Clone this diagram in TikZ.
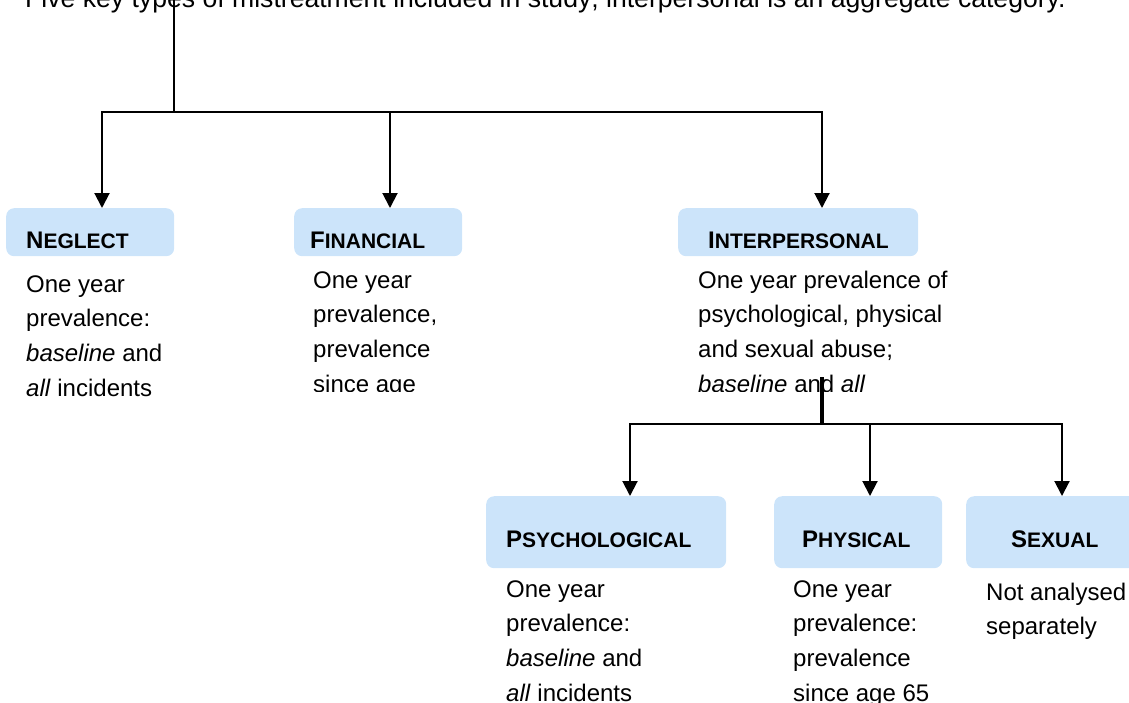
\documentclass[tikz,border=0pt]{standalone}
\usepackage{fontspec}
\setmainfont{Liberation Sans}
\usetikzlibrary{arrows.meta}
\definecolor{boxblue}{RGB}{204,228,250}
\newcommand{\capword}[2]{#1{\fontsize{21}{21}\selectfont #2}}
\begin{document}
\begin{tikzpicture}[x=1pt,y=1pt]
	\tikzset{catbox/.style = {fill=boxblue, rounded corners=8pt, anchor=north west, inner sep=0pt}}
	\tikzset{cathead/.style = {anchor=base west, inner sep=0pt, font=\fontsize{24}{24}\selectfont\bfseries}}
	% base of a note is the baseline of its last line
	\tikzset{catnote/.style = {anchor=base west, inner sep=0pt, align=left, font=\fontsize{24}{34.8}\selectfont}}
	\tikzset{link/.style = {line width=2pt}}
	\tikzset{arr/.style = {link, -{Triangle[length=15pt,width=15pt]}}}
	\clip (0,0) rectangle (1129,-702);
	\node[anchor=base west, inner sep=0pt, font=\fontsize{26.6}{26.6}\selectfont] (title) at (25,-7.5)
		{Five key types of mistreatment included in study; interpersonal is an aggregate category.};
	% top level
	\node[catbox, minimum width=168pt, minimum height=48pt] (neglect) at (6,-208) {};
	\node[catbox, minimum width=168pt, minimum height=48pt] (financial) at (294,-208) {};
	\node[catbox, minimum width=240pt, minimum height=48pt] (interpersonal) at (678,-208) {};
	\node[cathead] (neglecthead) at (26,-248) {\capword{N}{EGLECT}};
	\node[cathead] (financialhead) at (310,-248) {\capword{F}{INANCIAL}};
	\node[cathead] (interpersonalhead) at (708,-248) {\capword{I}{NTERPERSONAL}};
	\node[catnote] (neglectnote) at (26,-396.4) {One year\\prevalence:\\\emph{baseline} and\\\emph{all} incidents};
	\begin{scope}
		\clip (294,-260) rectangle (470,-391);
		\node[catnote] (financialnote) at (313,-392.4) {One year\\prevalence,\\prevalence\\since age};
	\end{scope}
	\begin{scope}
		\clip (678,-260) rectangle (960,-391);
		\node[catnote] (interpersonalnote) at (698,-392.4) {One year prevalence of\\psychological, physical\\and sexual abuse;\\\emph{baseline} and \emph{all}};
	\end{scope}
	% sub level
	\node[catbox, minimum width=240pt, minimum height=72pt] (psychological) at (486,-496) {};
	\node[catbox, minimum width=168pt, minimum height=72pt] (physical) at (774,-496) {};
	\node[catbox, minimum width=176pt, minimum height=72pt] (sexual) at (966,-496) {};
	\node[cathead] (psychologicalhead) at (506,-547) {\capword{P}{SYCHOLOGICAL}};
	\node[cathead] (physicalhead) at (802,-547) {\capword{P}{HYSICAL}};
	\node[cathead] (sexualhead) at (1011,-547) {\capword{S}{EXUAL}};
	\node[catnote] (psychologicalnote) at (506,-701.4) {One year\\prevalence:\\\emph{baseline} and\\\emph{all} incidents};
	\node[catnote] (physicalnote) at (793,-701.4) {One year\\prevalence:\\prevalence\\since age 65};
	\node[catnote] (sexualnote) at (986,-634.8) {Not analysed\\separately};
	% connectors
	\coordinate (root) at (174,0);
	\coordinate (split) at (174,-112);
	\coordinate (bus1) at (102,-112);
	\coordinate (bus2) at (390,-112);
	\coordinate (bus3) at (822,-112);
	\draw[link] (root) -- (split);
	\draw[link, line cap=rect] (bus1) -- (bus3);
	\draw[arr] (bus1) -- (bus1 |- neglect.north);
	\draw[arr] (bus2) -- (bus2 |- financial.north);
	\draw[arr] (bus3) -- (bus3 |- interpersonal.north);
	\coordinate (stem) at (822,-377);
	\coordinate (sub1) at (630,-424);
	\coordinate (sub2) at (870,-424);
	\coordinate (sub3) at (1062,-424);
	\draw[line width=3.3pt] (stem) -- (stem |- sub1);
	\draw[link, line cap=rect] (sub1) -- (sub3);
	\draw[arr] (sub1) -- (sub1 |- psychological.north);
	\draw[arr] (sub2) -- (sub2 |- physical.north);
	\draw[arr] (sub3) -- (sub3 |- sexual.north);
\end{tikzpicture}
\end{document}
